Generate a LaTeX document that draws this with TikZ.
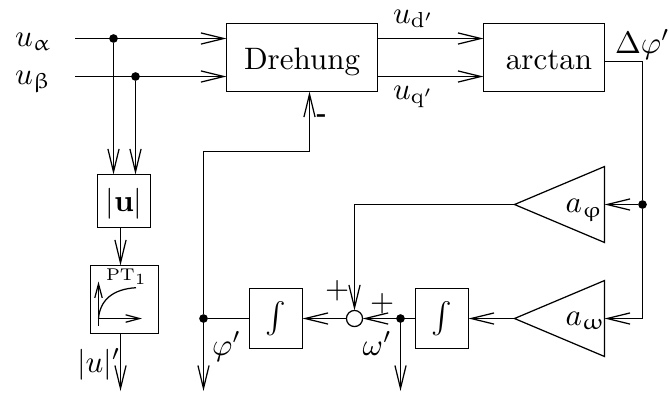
\documentclass[tikz,border=0pt]{standalone}
\usepackage{amsmath,amssymb}
\usepackage{upgreek}
\usetikzlibrary{arrows.meta, positioning, shapes.geometric}
\tikzset{
  blockbox/.style={
    draw,
    rectangle,
    inner sep=0pt,
    outer sep=0pt,
    align=center,
  },
  bigbox/.style={
    blockbox,
    minimum height=21.94pt,
    text height=9.7pt,
    text depth=2pt,
  },
  intbox/.style={
    blockbox,
    minimum width=17.1pt,
    minimum height=19.36pt,
  },
  gain/.style={
    draw,
    isosceles triangle,
    isosceles triangle stretches,
    shape border rotate=180,
    inner sep=0pt,
    outer sep=0pt,
    minimum width=24.5pt,
    minimum height=29.03pt,
    anchor=apex,
  },
  junction/.style={
    circle,
    fill=black,
    inner sep=0pt,
    outer sep=0pt,
    minimum size=2.8pt,
  },
  sumpoint/.style={
    circle,
    draw,
    inner sep=0pt,
    outer sep=0pt,
    minimum size=5.2pt,
  },
  lbl/.style={
    inner sep=0pt,
    outer sep=0pt,
    anchor=base west,
  },
  arrow/.style={
    -{Straight Barb[length=7.4pt,width=3.6pt]},
  },
  smallarrow/.style={
    -{Straight Barb[length=4.5pt,width=2.4pt]},
  }
}

\begin{document}
\begin{tikzpicture}[x=.3226pt,y=-.3226pt]
  \useasboundingbox (0,0) rectangle (669,392);

  \node[bigbox, minimum width=48.71pt] (dreh) at (302,57.5) {Drehung};
  \node[bigbox, minimum width=39.03pt, right=34.2pt of dreh] (atan) {\hspace{3.2pt}arctan};
  \node[blockbox, minimum width=17.1pt, minimum height=17.1pt, text height=9.5pt, text depth=2.5pt] (betrag) at (124,201) {$|\mathbf{u}|$};
  \node[blockbox, minimum width=21.94pt, minimum height=21.94pt] (ptglied) at (124.5,299.5) {};
  \node[intbox] (intphi) at (276,318.5) {$\int$};
  \node[intbox] (intom) at (442,318.5) {$\int$};
  \node[sumpoint] (sum) at (354.5,318.5) {};
  \node[gain] (aphi) at (514.5,204.5) {};
  \node[gain] (aom) at (514.5,318.5) {};

  \node[junction] (ja) at (113.5,38.5) {};
  \node[junction] (jb) at (135.5,76.5) {};
  \node[junction] (jphi) at (203.5,318.5) {};
  \node[junction] (jom) at (400.5,318.5) {};
  \node[junction] (jfb) at (642.5,204.5) {};

  \coordinate (ualpha) at (75,38.5);
  \coordinate (ubeta) at (75,76.5);
  \coordinate (phiout) at (203.5,391);
  \coordinate (omout) at (400.5,391);
  \coordinate (uout) at (120.5,391);
  \coordinate (kneea) at (203.5,151.5);
  \coordinate (kneeb) at (309.5,151.5);
  \coordinate (kneec) at (642.5,61.5);

  \node[lbl] (lalpha) at (15,46) {$u_\upalpha$};
  \node[lbl] (lbeta) at (15,84) {$u_\upbeta$};
  \node[lbl] (ld) at (393,23) {$u_{\mathrm{d}'}$};
  \node[lbl] (lq) at (393,99) {$u_{\mathrm{q}'}$};
  \node[lbl] (ldphi) at (615,53) {$\Delta\varphi'$};
  \node[lbl] (lphi) at (212,355) {$\varphi'$};
  \node[lbl] (lom) at (362.7,355) {$\omega'$};
  \node[lbl] (lu) at (77,372) {$|u|'$};
  \node[lbl] (laphi) at (565.5,212.7) {$a_\upvarphi$};
  \node[lbl] (laom) at (565.5,325.3) {$a_\upomega$};
  \node[lbl] (lpt) at (106,280) {\fontsize{5.5}{6}\selectfont PT$_1$};
  \node[lbl] (plusa) at (325,298) {$+$};
  \node[lbl] (plusb) at (370,311) {$+$};
  \node[lbl] (minus) at (316.5,121) {\fontsize{8}{9}\selectfont\textbf{-}};

  \draw[arrow] (ualpha) -- (dreh.west |- ualpha);
  \draw[arrow] (ubeta) -- (dreh.west |- ubeta);
  \draw[arrow] (ja) -- (ja |- betrag.north);
  \draw[arrow] (jb) -- (jb |- betrag.north);
  \draw[arrow] (betrag.south -| uout) -- (ptglied.north -| uout);
  \draw[arrow] (ptglied.south -| uout) -- (uout);
  \draw[arrow] (dreh.east |- ualpha) -- (atan.west |- ualpha);
  \draw[arrow] (dreh.east |- ubeta) -- (atan.west |- ubeta);
  \draw (atan.east |- kneec) -- (kneec) -- (jfb);
  \draw[arrow] (jfb) -- (aphi.east |- jfb);
  \draw[arrow] (jfb) |- (aom.east |- jom);
  \draw[arrow] (aphi.apex) -| (sum.north);
  \draw[arrow] (aom.apex) -- (intom.east);
  \draw[arrow] (intom.west) -- (sum.east);
  \draw[arrow] (jom) -- (omout);
  \draw[arrow] (sum.west) -- (intphi.east);
  \draw (intphi.west) -- (jphi);
  \draw[arrow] (jphi) -- (phiout);
  \draw[arrow] (jphi) -- (kneea) -- (kneeb) -- (dreh.south -| kneeb);

  \draw[smallarrow] (98.5,325.5) -- (98.5,281.5);
  \draw[smallarrow] (98.5,318.5) -- (142,318.5);
  \draw (98.5,318.5) .. controls (100,300) and (113,289) .. (136,287.7);
\end{tikzpicture}
\end{document}
